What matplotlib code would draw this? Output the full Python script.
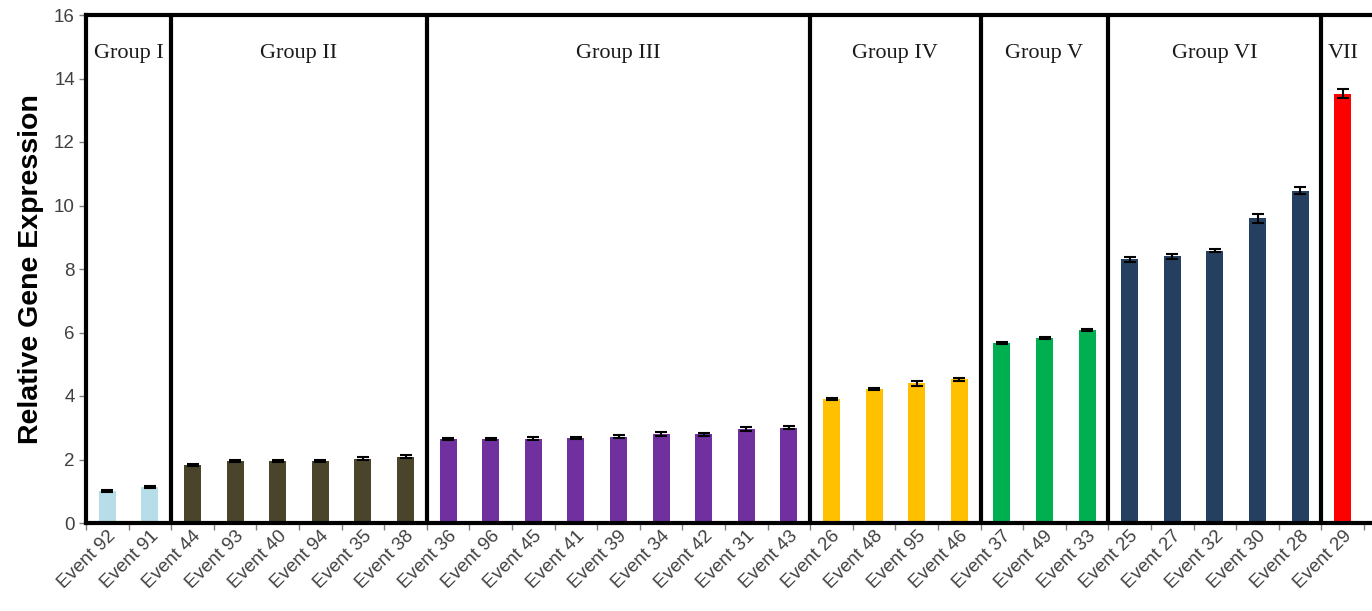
import matplotlib
matplotlib.use('Agg')
import matplotlib.pyplot as plt
import numpy as np

# Expression data per event, ordered by group
events = ['Event 92', 'Event 91',
          'Event 44', 'Event 93', 'Event 40', 'Event 94', 'Event 35', 'Event 38',
          'Event 36', 'Event 96', 'Event 45', 'Event 41', 'Event 39', 'Event 34',
          'Event 42', 'Event 31', 'Event 43',
          'Event 26', 'Event 48', 'Event 95', 'Event 46',
          'Event 37', 'Event 49', 'Event 33',
          'Event 25', 'Event 27', 'Event 32', 'Event 30', 'Event 28',
          'Event 29']
expression = [1.00, 1.13,
              1.82, 1.95, 1.95, 1.96, 2.03, 2.09,
              2.65, 2.65, 2.66, 2.68, 2.72, 2.80, 2.80, 2.96, 3.00,
              3.90, 4.22, 4.40, 4.52,
              5.68, 5.83, 6.08,
              8.30, 8.40, 8.58, 9.60, 10.47,
              13.52]
errors = [0.03, 0.03,
          0.03, 0.04, 0.04, 0.03, 0.04, 0.04,
          0.04, 0.04, 0.04, 0.03, 0.04, 0.06, 0.05, 0.05, 0.05,
          0.04, 0.04, 0.08, 0.04,
          0.03, 0.04, 0.04,
          0.08, 0.08, 0.05, 0.14, 0.10,
          0.14]

group_names = ['Group I', 'Group II', 'Group III', 'Group IV', 'Group V', 'Group VI', 'VII']
group_sizes = [2, 6, 9, 4, 3, 5, 1]
group_colors = ['#b7dde8', '#4a452a', '#7030a0', '#ffc000', '#00b050', '#243f60', '#ff0000']

colors = []
for c, n in zip(group_colors, group_sizes):
    colors += [c] * n

x = np.arange(len(events))

fig = plt.figure(figsize=(13.72, 6.11), dpi=100)
ax = fig.add_axes([86 / 1372, 88 / 611, 1304 / 1372, 508 / 611])

ax.bar(x, expression, width=0.4, color=colors, zorder=2)
ax.errorbar(x, expression, yerr=errors, fmt='none', ecolor='black',
            elinewidth=1.5, capsize=4, capthick=1.5, zorder=3)

ax.set_xlim(-0.5, -0.5 + 1304 / 42.6)
ax.set_ylim(0, 16)
ax.set_yticks(np.arange(0, 17, 2))

# ticks at category boundaries, labels at bar centres
ax.set_xticks(np.arange(-0.5, len(events), 1.0))
ax.set_xticklabels([])
ax.set_xticks(x, minor=True)
ax.set_xticklabels(events, minor=True, rotation=45, ha='right',
                   rotation_mode='anchor', fontsize=13.5,
                   family='Liberation Sans', color='#404040')
ax.tick_params(axis='x', which='minor', length=0, pad=3)
ax.tick_params(axis='x', which='major', length=5, color='#808080', width=1)
ax.tick_params(axis='y', length=5, color='#808080', width=1,
               labelsize=13.5, labelcolor='#404040', pad=3)
for lab in ax.get_yticklabels():
    lab.set_family('Liberation Sans')

for side in ['left', 'top', 'bottom']:
    ax.spines[side].set_linewidth(3)
    ax.spines[side].set_color('black')
ax.spines['right'].set_visible(False)

# group dividers and group titles
start = 0
for name, n in zip(group_names, group_sizes):
    end = start + n
    if start > 0:
        ax.axvline(start - 0.5, color='black', linewidth=3, zorder=4)
    ax.text((start + end - 1) / 2, 14.8, name, ha='center', va='center',
            fontsize=16, family='Liberation Serif', color='#1a1a1a')
    start = end

ax.set_ylabel('Relative Gene Expression', fontsize=20.5, fontweight='bold',
              family='Liberation Sans', labelpad=7)

fig.savefig('out.png', dpi=100)
